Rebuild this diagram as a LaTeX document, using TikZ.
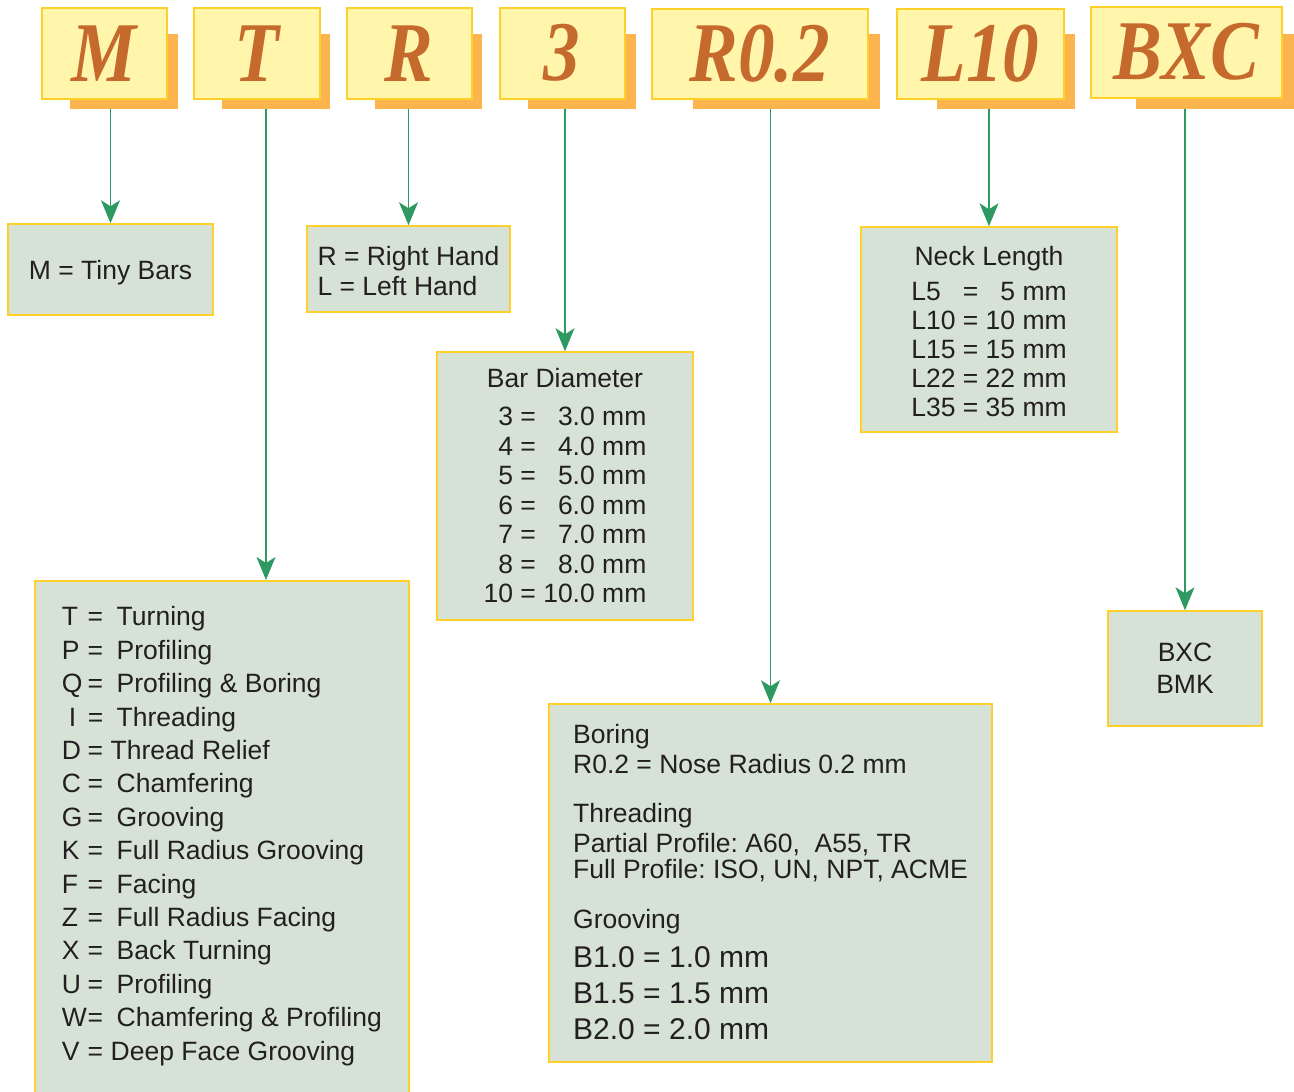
\documentclass[tikz,border=0pt]{standalone}
\usepackage{fontspec}
\setmainfont{Liberation Sans}
\newfontfamily\codefont{Liberation Serif}[FakeStretch=0.86]
\usetikzlibrary{arrows.meta}
\frenchspacing

\definecolor{codefill}{HTML}{FFF6AC}
\definecolor{codeedge}{HTML}{FFCF2A}
\definecolor{codeshade}{HTML}{FBB44E}
\definecolor{codeletter}{HTML}{C56A2C}
\definecolor{infofill}{HTML}{D5E2D5}
\definecolor{linkgreen}{HTML}{2E9A62}
\definecolor{ink}{HTML}{231F20}

\tikzset{
	code/.style = {draw = codeedge, fill = codefill, line width = 1.5pt, anchor = north west, minimum height = 91, inner sep = 0pt, text = codeletter, font = \codefont\bfseries\itshape\fontsize{85}{85}\selectfont},
	codeshadow/.style = {fill = codeshade, anchor = north west, minimum height = 75, inner sep = 0pt},
	info/.style = {draw = codeedge, fill = infofill, line width = 1.5pt, inner sep = 0pt, text = ink, font = \fontsize{26.5}{29.5}\selectfont},
	link/.style = {draw = linkgreen, line width = 1.6pt, -{Stealth[length=23pt, width=19pt, inset=6pt]}}
}
\newcommand\opt[3]{\mbox{\makebox[26pt][l]{#1}\makebox[29pt][l]{#2}#3}}

\begin{document}
\begin{tikzpicture} [x = 1pt, y = -1pt]
	\useasboundingbox (0,0) rectangle (1294,1092);
	\clip (0,0) rectangle (1294,1092);
	% code letters
	\node [codeshadow, minimum width = 108] (sM) at (70,34) {};
	\node [code, minimum width = 125] (hM) at (41,7) {M};
	\node [codeshadow, minimum width = 108] (sT) at (222,34) {};
	\node [code, minimum width = 126] (hT) at (193,7) {T};
	\node [codeshadow, minimum width = 107] (sR) at (375,34) {};
	\node [code, minimum width = 125] (hR) at (346,7) {R};
	\node [codeshadow, minimum width = 108] (s3) at (528,34) {};
	\node [code, minimum width = 125] (h3) at (499,7) {3};
	\node [codeshadow, minimum width = 187] (sR02) at (693,34) {};
	\node [code, minimum width = 216, minimum height = 90] (hR02) at (651,8) {R0.2};
	\node [codeshadow, minimum width = 138] (sL) at (937,34) {};
	\node [code, minimum width = 167, minimum height = 90] (hL) at (896,8) {L10};
	\node [codeshadow, minimum width = 170] (sB) at (1136,34) {};
	\node [code, minimum width = 191] (hB) at (1090,6) {BXC};
	% explanation boxes
	\node [info, minimum width = 205, minimum height = 91] (tiny) at (110.5,269.5) {\rule{0pt}{25pt}M = Tiny Bars};
	\node [info, minimum width = 203, minimum height = 86, align = left] (hand) at (408.5,269) {\rule{0pt}{23pt}R = Right Hand\\L = Left Hand};
	\node [info, minimum width = 256, minimum height = 268, align = center] (bar) at (565,486) {\rule{0pt}{27pt}Bar Diameter\\[9pt]
		\begin{tabular}[t]{@{}r@{\ =\ }r@{}}
		3 & 3.0 mm\\ 4 & 4.0 mm\\ 5 & 5.0 mm\\ 6 & 6.0 mm\\ 7 & 7.0 mm\\ 8 & 8.0 mm\\ 10 & 10.0 mm
		\end{tabular}};
	\node [info, minimum width = 256, minimum height = 205, align = center, font = \fontsize{26.5}{29}\selectfont] (neck) at (989,329.5) {\rule{0pt}{31pt}Neck Length\\[6pt]
		\begin{tabular}[t]{@{}l@{\ =\ }r@{}}
		L5 & 5 mm\\ L10 & 10 mm\\ L15 & 15 mm\\ L22 & 22 mm\\ L35 & 35 mm
		\end{tabular}};
	\node [info, anchor = north west, minimum width = 374, inner xsep = 27pt, inner ysep = 26pt] (tlist) at (34,580) {\parbox[t][490pt][t]{320pt}{\fontsize{26.5}{33.4}\selectfont
		\opt{T}{=}{Turning}\\
		\opt{P}{=}{Profiling}\\
		\opt{Q}{=}{Profiling \& Boring}\\
		\opt{\hspace{7pt}I}{=}{Threading}\\
		\opt{D}{=}{\hspace{-6pt}Thread Relief}\\
		\opt{C}{=}{Chamfering}\\
		\opt{G}{=}{Grooving}\\
		\opt{K}{=}{Full Radius Grooving}\\
		\opt{F}{=}{Facing}\\
		\opt{Z}{=}{Full Radius Facing}\\
		\opt{X}{=}{Back Turning}\\
		\opt{U}{=}{Profiling}\\
		\opt{W}{\hspace{0pt}=}{Chamfering \& Profiling}\\
		\opt{V}{=}{\hspace{-6pt}Deep Face Grooving}}};
	\node [info, minimum width = 443, minimum height = 358, font = \fontsize{26.5}{30}\selectfont] (boring) at (770.5,883) {
		\begin{tabular}{@{}l@{}}
		\rule{0pt}{25pt}Boring\\
		R0.2 = Nose Radius 0.2 mm\\[19pt]
		Threading\\
		Partial Profile: A60,\ \ A55, TR\\[-4pt]
		Full Profile: ISO, UN, NPT, ACME\\[20pt]
		Grooving\\[9pt]
		{\fontsize{30}{36}\selectfont B1.0 = 1.0 mm}\\[6pt]
		{\fontsize{30}{36}\selectfont B1.5 = 1.5 mm}\\[6pt]
		{\fontsize{30}{36}\selectfont B2.0 = 2.0 mm}
		\end{tabular}};
	\node [info, minimum width = 154, minimum height = 115, align = center, font = \fontsize{26.5}{32}\selectfont] (bxc) at (1185,668.5) {BXC\\BMK};
	% arrows
	\coordinate (tdrop) at (266,580);
	\draw [link] (sM.south -| tiny.north) -- (tiny.north);
	\draw [link] (tdrop |- sT.south) -- (tdrop);
	\draw [link] (sR.south -| hand.north) -- (hand.north);
	\draw [link] (s3.south -| bar.north) -- (bar.north);
	\draw [link] (sR02.south -| boring.north) -- (boring.north);
	\draw [link] (sL.south -| neck.north) -- (neck.north);
	\draw [link] (sB.south -| bxc.north) -- (bxc.north);
\end{tikzpicture}
\end{document}
